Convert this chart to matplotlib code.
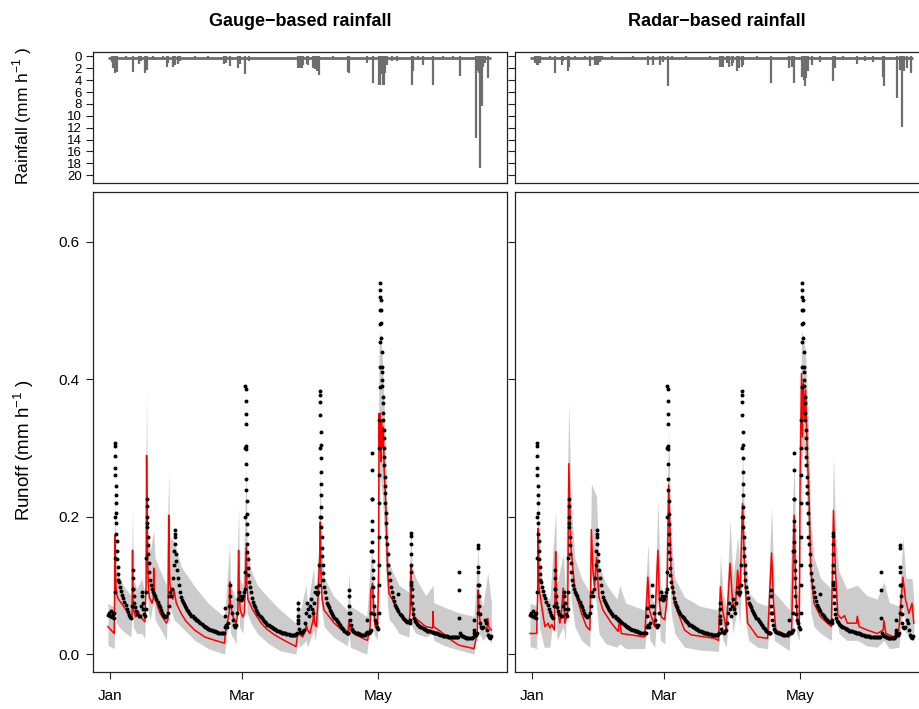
import matplotlib
matplotlib.use("Agg")
import matplotlib.pyplot as plt

plt.rcParams['font.family'] = ['Liberation Sans', 'DejaVu Sans']
plt.rcParams['mathtext.fontset'] = 'custom'
plt.rcParams['mathtext.rm'] = 'Liberation Sans'

# ---- data: time in days since 1 Jan ----
month_days = [0, 59, 120]
month_labels = ['Jan', 'Mar', 'May']

# observed runoff (mm/h), same for both panels
obs_day = [
    -0.8, -0.4, 0.0, 0.4, 0.8, 1.2, 1.6, 2.0,
    2.1, 2.15, 2.2, 2.25, 2.3, 2.35, 2.4, 2.45, 2.5, 2.55, 2.6, 2.7, 2.8, 2.9, 3.0, 3.15, 3.3, 3.45, 3.6, 3.8,
    4.0, 4.5, 5.0, 5.5, 6.0, 6.5, 7.0, 7.5, 8.0, 8.5, 9.0, 9.5,
    10.0, 10.1, 10.15, 10.25, 10.4, 10.6, 10.9, 11.3, 11.8, 12.3, 12.8, 13.3,
    13.8, 14.2, 14.4, 14.7, 15.0, 15.4, 15.8, 16.1,
    16.2, 16.3, 16.4, 16.5, 16.6, 16.7, 16.8, 16.9, 17.0, 17.2, 17.4, 17.6, 17.9, 18.3, 18.8, 19.3, 19.8,
    20.3, 20.8, 21.3, 21.8, 22.3, 22.8, 23.3, 23.8, 24.3, 24.8, 25.3, 25.8,
    26.3, 26.6, 27.0, 27.4, 27.8, 28.2, 28.5, 28.7, 28.9, 29.0, 29.1, 29.3, 29.5, 29.7, 30.0, 30.4, 30.8,
    31.3, 31.8, 32.2, 32.6, 33.0, 33.5, 34, 34.5, 35, 35.5, 36, 36.5, 37, 37.5, 38, 38.5, 39, 39.5, 40,
    40.5, 41, 41.5, 42, 42.5, 43, 43.5, 44, 44.5, 45, 45.5, 46, 46.5, 47, 47.5, 48, 48.5, 49, 49.5, 50,
    50.5, 51,
    51.5, 51.6, 51.7, 52.0, 52.5, 53.0, 53.4, 53.6, 53.8, 54.1, 54.5, 55, 55.5, 56, 56.5,
    57.0, 57.4, 57.8, 58.2, 58.6, 59.0, 59.5, 60.0, 60.3,
    60.5, 60.55, 60.6, 60.65, 60.7, 60.75, 60.8, 60.85, 60.9, 60.95, 61.0, 61.05, 61.1, 61.15, 61.2, 61.25,
    61.3, 61.4, 61.5, 61.6, 61.8, 62.0, 62.3, 62.6, 63.0, 63.5,
    64, 64.5, 65, 65.5, 66, 66.5, 67, 67.5, 68, 68.5, 69, 69.5, 70, 70.5, 71, 71.5, 72, 72.5, 73, 73.5,
    74, 74.5, 75, 75.5, 76, 76.5, 77, 77.5, 78, 78.5, 79, 79.5, 80, 80.5, 81, 81.5, 82, 82.5, 83, 83.4,
    83.8,
    84.0, 84.05, 84.1, 84.2, 84.4, 84.8, 85.3, 85.8, 86.3, 86.8, 87.5, 88.0, 88.4, 88.8, 89.3, 89.8,
    90.2, 90.6, 91.0, 91.4, 91.8, 92.2, 92.6, 93.0, 93.4,
    93.8, 93.9, 94.0, 94.1, 94.15, 94.2, 94.25, 94.3, 94.35, 94.4, 94.45, 94.5, 94.55, 94.6, 94.65, 94.7,
    94.8, 94.9, 95.0, 95.2, 95.4, 95.6, 95.9,
    96.3, 96.8, 97.3, 97.7, 98, 98.5, 99, 99.5, 100, 100.5, 101, 101.5, 102, 102.5, 103, 103.5, 104,
    104.5, 105, 105.5, 106, 106.4,
    106.8, 107.0, 107.05, 107.1, 107.2, 107.35, 107.6,
    108, 108.5, 109, 109.5, 110, 110.5, 111, 111.5, 112, 112.5, 113, 113.5, 114, 114.5, 114.9, 115.3,
    115.7, 116.2, 116.6, 116.8,
    117.0, 117.1, 117.15, 117.2, 117.25, 117.3, 117.35, 117.4, 117.45, 117.5, 117.6, 117.7, 117.8, 117.9,
    118.0, 118.2, 118.4, 118.7, 119.0, 119.5, 120.0,
    120.3, 120.4, 120.45, 120.5, 120.55, 120.6, 120.65, 120.7, 120.75, 120.8, 120.85, 120.9, 120.95, 121.0,
    121.05, 121.1, 121.2, 121.3, 121.4, 121.5, 121.6, 121.7, 121.8, 121.9, 122.0, 122.1, 122.2, 122.3,
    122.4, 122.5, 122.6, 122.7, 122.8, 122.9, 123.0, 123.1, 123.2, 123.3, 123.4, 123.6, 123.8, 124.0,
    124.3, 124.6, 124.9, 125.2,
    125.7, 126.2, 126.7, 127.2, 127.7, 128.2, 128.7, 128.9, 129.2, 129.7, 130.2, 130.7, 131.2, 131.7,
    132.2, 132.7, 133.2, 133.7, 134.2,
    134.5, 134.6, 134.65, 134.7, 134.75, 134.8, 134.85, 134.9, 135.0, 135.1, 135.2, 135.35, 135.5, 135.7,
    136, 136.5, 137, 137.5, 138, 138.5, 139, 139.5, 140, 140.5, 141, 141.5, 142, 142.5, 143, 143.5, 144,
    144.5, 145, 145.5, 146, 146.5, 147, 147.5, 148, 148.5, 149, 149.5, 150, 150.5, 151, 151.5, 152,
    152.5, 153, 153.5, 154, 154.5, 155, 155.5, 156, 156.3, 156.3, 156.3, 156.6, 157, 157.5, 158, 158.5,
    159, 159.5, 160, 160.5, 161, 161.5, 162, 162.4, 162.8, 162.9, 163.2, 163.5, 163.9, 164.3,
    164.7, 164.8, 164.85, 164.9, 164.95, 165.0, 165.1, 165.2, 165.3, 165.5, 165.8, 166.2, 166.7, 167.2,
    167.8, 168.3, 168.8, 169.3, 169.8, 170.3, 170.8,
]
obs_runoff = [
    0.057, 0.060, 0.055, 0.062, 0.054, 0.058, 0.052, 0.060,
    0.09, 0.14, 0.20, 0.26, 0.288, 0.307, 0.303, 0.27, 0.244, 0.232, 0.22, 0.205, 0.19, 0.175, 0.165, 0.15, 0.138, 0.126, 0.117, 0.108,
    0.105, 0.098, 0.092, 0.086, 0.081, 0.076, 0.071, 0.066, 0.061, 0.057, 0.054, 0.053,
    0.07, 0.095, 0.122, 0.11, 0.095, 0.085, 0.075, 0.068, 0.062, 0.058, 0.055, 0.056,
    0.07, 0.085, 0.09, 0.075, 0.065, 0.058, 0.056, 0.065,
    0.09, 0.14, 0.19, 0.225, 0.215, 0.20, 0.185, 0.17, 0.158, 0.145, 0.132, 0.12, 0.108, 0.10, 0.095, 0.09, 0.088,
    0.085, 0.08, 0.076, 0.072, 0.068, 0.064, 0.06, 0.057, 0.055, 0.054, 0.055, 0.06,
    0.07, 0.085, 0.09, 0.085, 0.095, 0.11, 0.13, 0.15, 0.17, 0.181, 0.175, 0.16, 0.145, 0.135, 0.122, 0.11, 0.10,
    0.09, 0.083, 0.079, 0.076, 0.073, 0.070, 0.067, 0.064, 0.062, 0.060, 0.058, 0.056, 0.055, 0.053, 0.052, 0.050, 0.049, 0.048, 0.047,
    0.045, 0.044, 0.042, 0.041, 0.040, 0.039, 0.038, 0.037, 0.036, 0.035, 0.035, 0.034, 0.033, 0.033, 0.032, 0.032, 0.031, 0.031, 0.030, 0.030,
    0.030, 0.030,
    0.04, 0.067, 0.055, 0.042, 0.04, 0.045, 0.07, 0.10, 0.085, 0.07, 0.06, 0.05, 0.043, 0.040, 0.042,
    0.06, 0.08, 0.09, 0.085, 0.078, 0.08, 0.085, 0.09, 0.095,
    0.12, 0.2, 0.3, 0.39, 0.385, 0.368, 0.349, 0.334, 0.303, 0.298, 0.276, 0.255, 0.238, 0.223, 0.204, 0.189,
    0.175, 0.16, 0.148, 0.138, 0.125, 0.115, 0.105, 0.097, 0.09, 0.082,
    0.076, 0.072, 0.068, 0.064, 0.061, 0.058, 0.056, 0.054, 0.052, 0.050, 0.048, 0.046, 0.045, 0.043, 0.042, 0.041, 0.040, 0.039, 0.038, 0.037,
    0.036, 0.035, 0.034, 0.033, 0.032, 0.032, 0.031, 0.030, 0.030, 0.030, 0.029, 0.029, 0.029, 0.028, 0.028, 0.028, 0.028, 0.028, 0.028, 0.029,
    0.03,
    0.05, 0.074, 0.065, 0.055, 0.045, 0.036, 0.032, 0.03, 0.034, 0.035, 0.045, 0.06, 0.075, 0.065, 0.055, 0.07,
    0.08, 0.065, 0.06, 0.075, 0.09, 0.097, 0.088, 0.09, 0.1,
    0.13, 0.2, 0.3, 0.382, 0.377, 0.367, 0.348, 0.323, 0.304, 0.285, 0.265, 0.248, 0.231, 0.214, 0.2, 0.185,
    0.17, 0.155, 0.142, 0.13, 0.118, 0.108, 0.098,
    0.09, 0.082, 0.075, 0.071, 0.068, 0.064, 0.061, 0.058, 0.056, 0.053, 0.051, 0.048, 0.046, 0.044, 0.042, 0.040, 0.038,
    0.036, 0.034, 0.032, 0.031, 0.030,
    0.03, 0.06, 0.093, 0.085, 0.07, 0.06, 0.05,
    0.042, 0.037, 0.034, 0.032, 0.031, 0.030, 0.030, 0.029, 0.029, 0.028, 0.028, 0.028, 0.028, 0.03, 0.05, 0.032,
    0.03, 0.03, 0.032, 0.035,
    0.06, 0.15, 0.225, 0.292, 0.268, 0.225, 0.193, 0.18, 0.163, 0.15, 0.135, 0.122, 0.11, 0.098,
    0.084, 0.07, 0.058, 0.05, 0.045, 0.04, 0.037,
    0.06, 0.10, 0.13, 0.17, 0.22, 0.26, 0.30, 0.34, 0.389, 0.418, 0.454, 0.48, 0.50, 0.52,
    0.539, 0.53, 0.515, 0.50, 0.481, 0.46, 0.44, 0.418, 0.41, 0.398, 0.39, 0.374, 0.365, 0.35,
    0.34, 0.326, 0.315, 0.30, 0.287, 0.275, 0.258, 0.245, 0.235, 0.22, 0.205, 0.19, 0.17, 0.16,
    0.146, 0.13, 0.118, 0.108,
    0.098, 0.09, 0.083, 0.077, 0.072, 0.068, 0.065, 0.087, 0.062, 0.059, 0.057, 0.055, 0.053, 0.051,
    0.049, 0.048, 0.047, 0.046, 0.045,
    0.05, 0.1, 0.176, 0.172, 0.16, 0.146, 0.13, 0.12, 0.105, 0.095, 0.085, 0.075, 0.065, 0.058,
    0.052, 0.048, 0.046, 0.044, 0.042, 0.041, 0.040, 0.039, 0.038, 0.037, 0.036, 0.035, 0.034, 0.034, 0.033, 0.033, 0.032,
    0.032, 0.031, 0.031, 0.030, 0.030, 0.029, 0.029, 0.028, 0.028, 0.027, 0.027, 0.026, 0.026, 0.026, 0.025, 0.025,
    0.025, 0.025, 0.025, 0.025, 0.025, 0.025, 0.025, 0.025, 0.12, 0.093, 0.052, 0.03, 0.028, 0.026, 0.026, 0.025,
    0.025, 0.024, 0.024, 0.024, 0.024, 0.023, 0.023, 0.025, 0.035, 0.05, 0.03, 0.028, 0.028, 0.03,
    0.06, 0.1, 0.159, 0.155, 0.127, 0.12, 0.1, 0.085, 0.07, 0.058, 0.045, 0.04, 0.038, 0.04,
    0.05, 0.045, 0.035, 0.028, 0.025, 0.024, 0.027,
]

# simulated runoff with gauge rainfall
sim_g_day = [
    -0.9, 1.9, 2.1, 2.2, 2.4, 2.8, 3.5, 4.0, 6, 8, 9.4, 9.9, 10.1, 10.3, 10.6, 11.5, 12.5, 12.8, 13.2,
    14.3, 15.6, 16.2, 16.4, 16.6, 16.8, 17.2, 17.6, 18.8, 19.4, 19.6, 19.9, 20.4, 22.5, 25.3, 26.0, 26.3,
    26.5, 26.8, 27.6, 28.2, 28.7, 29.1, 29.7, 31.9, 34, 37.9, 42.4, 47, 51.3, 51.6, 53.4, 53.6, 53.9, 55,
    56.5, 57.3, 57.6, 57.9, 58.3, 59.5, 60.2, 60.6, 61.0, 61.3, 61.8, 62.6, 64, 67.7, 70, 73.7, 78, 83.3,
    84.1, 86.3, 87.6, 87.8, 88.5, 89.5, 91.0, 91.2, 91.6, 92.4, 93.0, 93.3, 94.0, 94.2, 94.5, 95.0, 95.9,
    100.4, 106.4, 107.1, 107.5, 110, 115.3, 116.5, 116.8, 117.6, 118.0, 118.8, 119.8, 120.3, 120.5, 120.8,
    121.0, 121.3, 121.6, 122.0, 122.4, 122.8, 123.5, 124.3, 125, 126.5, 129.5, 133.9, 134.4, 134.7, 135.0,
    136.2, 141.4, 144.5, 144.7, 144.9, 148, 153, 156.3, 163, 164.5, 164.9, 165.3, 166, 168.8, 169.2,
    169.6, 170.3, 170.8,
]
sim_g = [
    0.040, 0.030, 0.10, 0.173, 0.122, 0.09, 0.082, 0.079, 0.07, 0.06, 0.052, 0.055, 0.151, 0.08, 0.064, 0.054, 0.058, 0.062, 0.055,
    0.052, 0.047, 0.1, 0.289, 0.2, 0.141, 0.1, 0.083, 0.074, 0.08, 0.125, 0.09, 0.079, 0.059, 0.045, 0.05, 0.202,
    0.14, 0.103, 0.085, 0.08, 0.093, 0.085, 0.074, 0.059, 0.048, 0.035, 0.025, 0.02, 0.016, 0.03, 0.06, 0.105, 0.074, 0.055,
    0.045, 0.06, 0.151, 0.09, 0.064, 0.054, 0.06, 0.1, 0.156, 0.1, 0.079, 0.074, 0.064, 0.045, 0.037, 0.028, 0.02, 0.011,
    0.030, 0.025, 0.035, 0.045, 0.035, 0.03, 0.05, 0.064, 0.045, 0.04, 0.07, 0.093, 0.15, 0.192, 0.112, 0.08, 0.064,
    0.045, 0.028, 0.05, 0.035, 0.028, 0.02, 0.04, 0.093, 0.103, 0.07, 0.040, 0.035, 0.12, 0.350, 0.30,
    0.35, 0.28, 0.34, 0.30, 0.33, 0.267, 0.219, 0.122, 0.088, 0.079, 0.059, 0.045, 0.06, 0.127, 0.074,
    0.054, 0.040, 0.038, 0.062, 0.04, 0.033, 0.02, 0.013, 0.008, 0.03, 0.093, 0.06, 0.040, 0.037, 0.052,
    0.04, 0.037, 0.035,
]
band_g_day = [
    -0.9, 1.9, 2.1, 2.2, 2.5, 3.0, 4.0, 6.0, 9.4, 10.1, 10.4, 12, 14.3, 15.6, 16.4, 16.7, 17.2, 18, 19.6,
    20.2, 22, 25.3, 26.3, 26.7, 28.7, 31.9, 38, 44, 51.3, 53.6, 54.0, 56.5, 57.6, 58.0, 59.5, 61.0, 61.4,
    63.2, 66, 70.7, 76, 83.3, 84.1, 85, 87.8, 88.5, 91.2, 91.8, 93.3, 94.2, 94.6, 95.9, 100, 106.3, 107.1,
    107.6, 115, 116.8, 117.6, 118.2, 119.8, 120.5, 121.0, 122.0, 122.8, 123.5, 124.3, 125, 126.5, 129.5,
    133.9, 134.7, 135.2, 137, 141.4, 144.7, 145, 150, 156.3, 163, 164.9, 165.4, 167, 169.2, 170.8,
]
band_g_lo = [
    0.013, 0.008, 0.03, 0.09, 0.06, 0.045, 0.04, 0.033, 0.025, 0.08, 0.04, 0.03, 0.03, 0.022, 0.2, 0.11, 0.06, 0.05, 0.08,
    0.05, 0.04, 0.02, 0.14, 0.07, 0.05, 0.04, 0.02, 0.008, 0.0, 0.06, 0.03, 0.015, 0.1, 0.04, 0.03, 0.11, 0.06,
    0.045, 0.03, 0.016, 0.005, 0.0, 0.02, 0.01, 0.02, 0.01, 0.035, 0.02, 0.05, 0.12, 0.07, 0.04, 0.025, 0.012, 0.03,
    0.01, 0.0, 0.05, 0.06, 0.03, 0.02, 0.22, 0.26, 0.23, 0.18, 0.13, 0.07, 0.05, 0.045, 0.03,
    0.025, 0.08, 0.04, 0.03, 0.025, 0.03, 0.02, 0.012, 0.006, 0.0, 0.06, 0.03, 0.02, 0.03, 0.015,
]
band_g_hi = [
    0.074, 0.068, 0.16, 0.26, 0.17, 0.13, 0.115, 0.10, 0.085, 0.212, 0.11, 0.095, 0.11, 0.09, 0.382, 0.25, 0.17, 0.15, 0.18,
    0.14, 0.125, 0.10, 0.27, 0.17, 0.165, 0.127, 0.098, 0.074, 0.054, 0.161, 0.10, 0.08, 0.215, 0.11, 0.10, 0.27, 0.16,
    0.122, 0.10, 0.083, 0.065, 0.045, 0.081, 0.06, 0.10, 0.07, 0.127, 0.08, 0.14, 0.27, 0.16, 0.112, 0.085, 0.064, 0.12,
    0.07, 0.055, 0.14, 0.15, 0.08, 0.06, 0.45, 0.47, 0.43, 0.36, 0.28, 0.17, 0.135, 0.12, 0.10,
    0.09, 0.18, 0.13, 0.11, 0.085, 0.10, 0.075, 0.068, 0.06, 0.055, 0.156, 0.09, 0.07, 0.118, 0.075,
]

# simulated runoff with radar rainfall
sim_r_day = [
    -0.9, 2.1, 2.5, 2.8, 3.1, 5.1, 5.8, 7.3, 8.0, 8.9, 10.0, 10.3, 10.6, 11.0, 12.5, 13.2, 14.0, 14.7, 16.0,
    16.5, 17.3, 19.2, 22.2, 24.4, 25.9, 26.3, 26.6, 27.3, 28.0, 28.9, 30.0, 31.8, 35.6, 38.6, 39.3, 40.0,
    50.5, 51.9, 52.6, 54.9, 56.4, 57.1, 57.9, 59.4, 60.5, 61.2, 62.3, 63.8, 68.3, 71.3, 81.7, 83.5, 84.4,
    85.4, 87.0, 88.7, 89.9, 91.0, 92.1, 93.1, 94.3, 95.3, 96.6, 101, 105.5, 107.3, 108.2, 109.2, 115.2,
    116.3, 117.4, 118.1, 118.9, 119.7, 120.1, 120.7, 121.1, 121.5, 122.1, 122.5, 123.3, 124.0, 124.9,
    126.3, 129.3, 132.3, 134.1, 135.0, 135.9, 137.0, 138.5, 140.0, 141.2, 145.3, 145.7, 146.5, 150.1,
    154.6, 157.3, 157.6, 158.5, 162.0, 164.3, 166.1, 167.3, 168.8, 170.2, 171.0,
]
sim_r = [
    0.030, 0.030, 0.08, 0.183, 0.098, 0.054, 0.040, 0.045, 0.038, 0.043, 0.035, 0.08, 0.149, 0.074, 0.045, 0.06, 0.096, 0.045, 0.06,
    0.277, 0.161, 0.093, 0.059, 0.040, 0.035, 0.1, 0.181, 0.122, 0.098, 0.141, 0.083, 0.064, 0.045, 0.033, 0.052, 0.030,
    0.025, 0.112, 0.064, 0.040, 0.151, 0.074, 0.054, 0.05, 0.08, 0.246, 0.122, 0.074, 0.035, 0.028, 0.023, 0.020, 0.098,
    0.064, 0.035, 0.132, 0.074, 0.064, 0.122, 0.083, 0.219, 0.112, 0.045, 0.025, 0.023, 0.147, 0.074, 0.035, 0.025,
    0.035, 0.202, 0.09, 0.045, 0.040, 0.268, 0.408, 0.316, 0.394, 0.34, 0.384, 0.292, 0.234, 0.122,
    0.074, 0.054, 0.045, 0.040, 0.209, 0.122, 0.057, 0.052, 0.056, 0.045, 0.045, 0.055, 0.040, 0.035,
    0.030, 0.035, 0.049, 0.030, 0.025, 0.035, 0.112, 0.079, 0.059, 0.074, 0.045,
]
band_r_day = [
    -0.9, 2.1, 2.8, 3.3, 5.5, 8, 10.6, 11.2, 14.0, 15.0, 16.5, 17.5, 19.2, 22.2, 25.9, 26.6, 28.9, 30, 33,
    38, 39.3, 42, 50.5, 51.9, 52.8, 55, 56.4, 57.5, 59.5, 61.2, 62.3, 64, 68.3, 75, 83.5, 84.4, 85.5, 87,
    88.7, 90, 92.1, 93.1, 94.3, 95.5, 97, 101, 105.5, 107.3, 108.5, 115.2, 117.4, 118.5, 119.7, 120.7,
    121.5, 122.5, 123.3, 124.0, 124.9, 126.3, 129.3, 134.1, 135.0, 136, 137.5, 141, 145.7, 150, 154.6,
    157.6, 160, 164.3, 166.1, 167.5, 170.2, 171,
]
band_r_lo = [
    0.011, 0.008, 0.1, 0.04, 0.01, 0.01, 0.08, 0.02, 0.04, 0.02, 0.2, 0.08, 0.04, 0.02, 0.01, 0.12, 0.07, 0.03, 0.015,
    0.01, 0.015, 0.008, 0.008, 0.06, 0.02, 0.01, 0.09, 0.02, 0.015, 0.17, 0.06, 0.03, 0.01, 0.006, 0.004, 0.05, 0.02, 0.01,
    0.08, 0.03, 0.07, 0.04, 0.15, 0.05, 0.02, 0.01, 0.008, 0.09, 0.02, 0.005, 0.13, 0.03, 0.02, 0.28,
    0.3, 0.28, 0.2, 0.13, 0.06, 0.04, 0.03, 0.02, 0.13, 0.06, 0.03, 0.02, 0.02, 0.012, 0.01,
    0.02, 0.008, 0.01, 0.07, 0.03, 0.03, 0.015,
]
band_r_hi = [
    0.074, 0.07, 0.245, 0.14, 0.085, 0.08, 0.209, 0.1, 0.146, 0.09, 0.365, 0.22, 0.14, 0.11, 0.09, 0.248, 0.229, 0.13, 0.103,
    0.08, 0.1, 0.074, 0.064, 0.161, 0.09, 0.07, 0.224, 0.1, 0.085, 0.326, 0.17, 0.11, 0.083, 0.07, 0.064, 0.144, 0.09, 0.07,
    0.195, 0.11, 0.171, 0.12, 0.30, 0.15, 0.09, 0.075, 0.07, 0.214, 0.09, 0.065, 0.285, 0.10, 0.075, 0.47,
    0.46, 0.44, 0.38, 0.30, 0.19, 0.14, 0.11, 0.095, 0.29, 0.17, 0.12, 0.095, 0.10, 0.085, 0.08,
    0.105, 0.075, 0.07, 0.171, 0.11, 0.11, 0.08,
]

# hourly rainfall (mm/h)
rain_g_day = [
    0.7, 1.5, 2.2, 2.96, 7.4, 10.15, 13.1, 13.7, 15.6, 16.4, 19.1, 23.6, 25.4, 26.1, 28.4, 29.1, 30.6, 31.3,
    38.0, 44.0, 51.0, 51.9, 53.7, 57.5, 58.2, 60.5, 62.4, 84.4, 85.1, 85.9, 86.6, 88.1, 88.9, 91.1, 91.8,
    92.6, 93.8, 100.0, 106.7, 107.2, 114.9, 117.6, 120.5, 121.1, 121.7, 122.1, 122.7, 123.2, 123.9, 126.1,
    128.4, 135.1, 135.8, 138.1, 140.3, 144.8, 149.3, 153.8, 156.8, 163.9, 164.5, 165.1, 165.7, 166.4,
    167.2, 167.9, 169.4,
]
rain_g = [
    0.9, 2.0, 2.8, 2.7, 0.45, 2.7, 1.2, 0.85, 2.8, 2.3, 0.65, 0.65, 1.7, 1.1, 1.7, 1.4, 1.2, 0.85,
    0.45, 0.3, 1.2, 1.1, 1.6, 1.9, 1.2, 2.9, 0.85, 2.0, 2.0, 2.0, 1.4, 1.3, 1.4, 2.0, 2.2,
    2.5, 3.1, 0.45, 2.7, 2.8, 1.1, 4.4, 4.8, 4.8, 3.0, 4.8, 4.8, 2.8, 1.4, 0.85,
    0.85, 4.8, 2.5, 0.65, 1.5, 4.8, 0.3, 0.3, 3.3, 13.8, 2.5, 2.8, 18.7, 8.4,
    1.7, 1.1, 3.6,
]
rain_r_day = [
    1.34, 2.1, 2.8, 3.6, 8.1, 10.3, 13.3, 14.0, 16.3, 16.7, 19.3, 23.7, 26.0, 28.2, 29.0, 29.7, 30.4, 31.2,
    35.7, 45.4, 52.1, 54.1, 57.3, 58.5, 60.8, 62.5, 69.2, 79.7, 84.2, 84.9, 85.7, 87.2, 88.4, 89.4, 90.2,
    92.0, 92.9, 93.9, 94.7, 100.6, 107.1, 115.3, 116.3, 117.4, 120.8, 121.6, 122.3, 122.8, 123.8, 125.3,
    128.8, 135.0, 135.8, 139.5, 145.5, 149.2, 152.6, 157.1, 157.7, 163.4, 164.6, 165.6, 166.4, 167.9, 169.7,
]
rain_r = [
    1.1, 1.4, 1.4, 1.1, 0.45, 2.8, 1.4, 0.85, 2.4, 1.7, 0.3, 0.45, 1.6, 1.4, 1.4, 1.4, 1.0, 0.65,
    0.4, 0.4, 1.4, 1.4, 1.4, 1.0, 5.0, 0.65, 0.3, 0.3, 1.7, 1.7, 1.7, 1.1, 1.7, 1.6, 1.1,
    2.5, 2.0, 1.7, 1.4, 0.45, 4.5, 2.0, 1.7, 4.4, 3.4, 4.0, 5.0, 3.7, 2.5, 1.4,
    1.0, 4.2, 2.0, 0.55, 1.2, 0.85, 1.0, 3.4, 5.0, 7.0, 2.25, 11.8, 2.5, 2.0, 2.8,
]

# ---- layout ----
W, H = 919, 709
fig = plt.figure(figsize=(W / 100, H / 100), dpi=100)
pw = 414 / W
ax_rain_g = fig.add_axes([93 / W, 1 - 183 / H, pw, 131 / H])
ax_q_g = fig.add_axes([93 / W, 1 - 672 / H, pw, 480 / H])
ax_rain_r = fig.add_axes([515 / W, 1 - 183 / H, pw, 131 / H])
ax_q_r = fig.add_axes([515 / W, 1 - 672 / H, pw, 480 / H])

xlim = (-7.6, 177.8)
rain_col = '#6e6e6e'
band_col = '#cccccc'


def style(ax):
    for s in ax.spines.values():
        s.set_linewidth(0.9)
        s.set_color('#222222')
    ax.tick_params(direction='out', length=5, width=0.8, labelsize=11, color='#222222', pad=5)
    ax.set_xlim(*xlim)


def rain_panel(ax, day, mm, labels):
    ax.hlines(0.2, obs_day[0], obs_day[-1], color=rain_col, lw=2.0)
    ax.vlines(day, 0, mm, color=rain_col, lw=1.6)
    style(ax)
    ax.set_ylim(21.3, -0.74)
    ax.set_xticks([])
    ax.set_yticks(range(0, 21, 2))
    ax.tick_params(axis='y', labelsize=9.5, pad=3)
    if labels:
        ax.set_yticklabels([str(v) for v in range(0, 21, 2)])
    else:
        ax.set_yticklabels([])


def runoff_panel(ax, bday, lo, hi, sday, sim, labels):
    ax.fill_between(bday, lo, hi, color=band_col, lw=0)
    ax.plot(sday, sim, color='red', lw=1.1)
    ax.scatter(obs_day, obs_runoff, s=8, c='black', lw=0, zorder=3)
    style(ax)
    ax.set_ylim(-0.026, 0.672)
    ax.set_xticks(month_days)
    ax.set_xticklabels(month_labels)
    ax.tick_params(axis='x', pad=7)
    ax.set_yticks([0.0, 0.2, 0.4, 0.6])
    if labels:
        ax.set_yticklabels(['0.0', '0.2', '0.4', '0.6'])
    else:
        ax.set_yticklabels([])


rain_panel(ax_rain_g, rain_g_day, rain_g, True)
rain_panel(ax_rain_r, rain_r_day, rain_r, False)
runoff_panel(ax_q_g, band_g_day, band_g_lo, band_g_hi, sim_g_day, sim_g, True)
runoff_panel(ax_q_r, band_r_day, band_r_lo, band_r_hi, sim_r_day, sim_r, False)

fig.text(300 / W, 1 - 22 / H, 'Gauge\u2212based rainfall', ha='center', va='center',
         fontsize=13, fontweight='bold')
fig.text(717 / W, 1 - 22 / H, 'Radar\u2212based rainfall', ha='center', va='center',
         fontsize=13, fontweight='bold')
fig.text(22 / W, 1 - 116 / H, r'Rainfall (mm h$^{-1}$ )', rotation=90,
         ha='center', va='center', fontsize=12.5)
fig.text(24 / W, 1 - 450 / H, r'Runoff (mm h$^{-1}$ )', rotation=90,
         ha='center', va='center', fontsize=13.5)

fig.savefig('out.png', dpi=100)
